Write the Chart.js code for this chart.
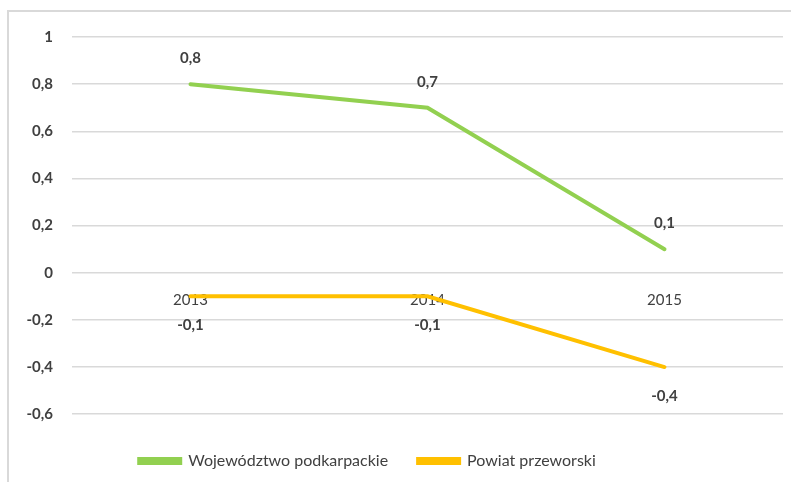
<!DOCTYPE html>
<html>
<head>
<meta charset="utf-8">
<script src="https://cdn.jsdelivr.net/npm/chart.js@4"></script>
<style>
  html, body { margin: 0; padding: 0; background: #fff; }
  #wrap { width: 791px; height: 482px; position: relative; }
</style>
</head>
<body>
<div id="wrap"><canvas id="myLineChart" width="791" height="482"></canvas></div>
<script>
// dane z wykresu
const lata = ['2013', '2014', '2015'];
const wojewodztwo = [0.8, 0.7, 0.1];
const powiat = [-0.1, -0.1, -0.4];
const nazwySerii = ['Województwo podkarpackie', 'Powiat przeworski'];

// liczby z przecinkiem
function fmt(v) {
    const r = Math.round(v * 10) / 10;
    return String(r).replace('.', ',');
}

// ramka (góra + lewa)
const ramka = {
    id: 'ramka',
    beforeDraw(chart) {
        const c = chart.ctx;
        c.save();
        c.strokeStyle = '#d9d9d9';
        c.lineWidth = 2;
        c.beginPath();
        c.moveTo(8, chart.height);
        c.lineTo(8, 11);
        c.lineTo(chart.width, 11);
        c.stroke();
        c.restore();
    }
};

// legenda troche w lewo
const przesunLegende = {
    id: 'przesunLegende',
    afterLayout(chart) {
        chart.legend.left -= 35;
        chart.legend.right -= 35;
    }
};

// etykiety danych
const etykiety = {
    id: 'etykiety',
    afterDatasetsDraw(chart) {
        const c = chart.ctx;
        c.save();
        c.font = 'bold 15px Lato';
        c.fillStyle = '#404040';
        c.textAlign = 'center';
        c.textBaseline = 'middle';
        chart.data.datasets.forEach(function (ds, i) {
            const meta = chart.getDatasetMeta(i);
            meta.data.forEach(function (pt, j) {
                c.fillText(fmt(ds.data[j]), pt.x, pt.y + ds.labelOffset);
            });
        });
        c.restore();
    }
};

const ctx = document.getElementById('myLineChart').getContext('2d');
const myLineChart = new Chart(ctx, {
    type: 'line',
    data: {
        labels: lata,
        datasets: [{
            label: nazwySerii[0],
            data: wojewodztwo,
            borderColor: '#92D050',
            backgroundColor: '#92D050',
            borderWidth: 4,
            pointRadius: 0,
            borderCapStyle: 'round',
            labelOffset: -26
        }, {
            label: nazwySerii[1],
            data: powiat,
            borderColor: '#FFC000',
            backgroundColor: '#FFC000',
            borderWidth: 4,
            pointRadius: 0,
            borderCapStyle: 'round',
            labelOffset: 29
        }]
    },
    options: {
        responsive: false,
        animation: false,
        layout: { padding: { top: 37, right: 8, bottom: 3, left: 22 } },
        plugins: {
            tooltip: { enabled: false },
            legend: {
                position: 'bottom',
                title: { display: true, text: ' ', font: { size: 4 }, padding: 2 },
                labels: {
                    boxWidth: 41,
                    boxHeight: 4,
                    padding: 30,
                    color: '#404040',
                    font: { family: 'Lato', size: 16 }
                }
            }
        },
        scales: {
            x: {
                position: { y: 0 },
                offset: true,
                grid: { display: false },
                border: { display: false },
                ticks: {
                    padding: 10,
                    color: '#404040',
                    font: { family: 'Lato', size: 15 }
                }
            },
            y: {
                min: -0.6,
                max: 1,
                afterFit: function (scale) { scale.width = 50; },
                grid: { color: '#d9d9d9', lineWidth: 1.5, drawTicks: false },
                border: { display: false },
                ticks: {
                    stepSize: 0.2,
                    padding: 19,
                    color: '#404040',
                    font: { family: 'Lato', size: 15, weight: 'bold' },
                    callback: function (v) { return fmt(v); }
                }
            }
        }
    },
    plugins: [ramka, przesunLegende, etykiety]
});
</script>
</body>
</html>
